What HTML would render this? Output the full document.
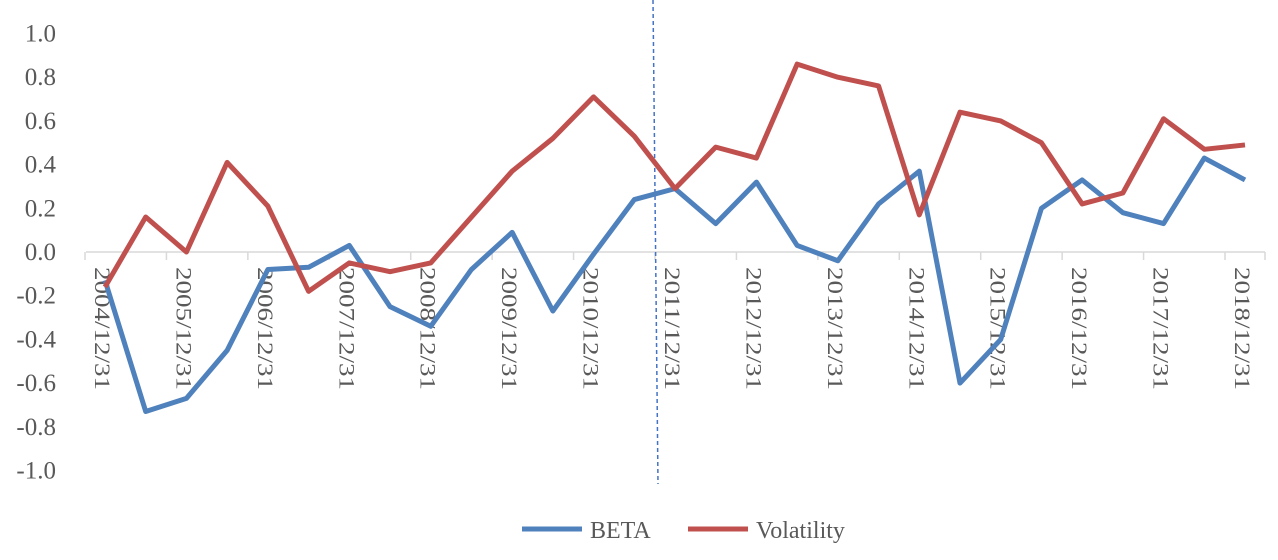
<!DOCTYPE html>
<html><head><meta charset="utf-8">
<style>
html,body{margin:0;padding:0;background:#fff;}
svg text{font-family:"Liberation Serif",serif;fill:#595959;}
</style></head>
<body>
<svg id="chart" width="1278" height="555" viewBox="0 0 1278 555" xmlns="http://www.w3.org/2000/svg">
<g id="yaxis"></g>
<g id="xaxis"></g>
<line x1="653" y1="0" x2="658" y2="484" stroke="#4472C4" stroke-width="1.5" stroke-dasharray="4,3"/>
<g id="series"></g>
<g>
<line x1="522" y1="529" x2="582" y2="529" stroke="#4F81BD" stroke-width="5"/>
<text x="590" y="538" font-size="24">BETA</text>
<line x1="688" y1="529" x2="748" y2="529" stroke="#C0504D" stroke-width="5"/>
<text x="756" y="538" font-size="24">Volatility</text>
</g>
</svg>
<script>
const years = ['2004','2005','2006','2007','2008','2009','2010','2011','2012','2013','2014','2015','2016','2017','2018'];
const beta = [-0.13,-0.73,-0.67,-0.45,-0.08,-0.07,0.03,-0.25,-0.34,-0.08,0.09,-0.27,-0.01,0.24,0.29,0.13,0.32,0.03,-0.04,0.22,0.37,-0.6,-0.4,0.2,0.33,0.18,0.13,0.43,0.33];
const volatility = [-0.16,0.16,0.0,0.41,0.21,-0.18,-0.05,-0.09,-0.05,0.16,0.37,0.52,0.71,0.53,0.29,0.48,0.43,0.86,0.8,0.76,0.17,0.64,0.6,0.5,0.22,0.27,0.61,0.47,0.49];
const yTicks = [1.0,0.8,0.6,0.4,0.2,0.0,-0.2,-0.4,-0.6,-0.8,-1.0];
const NS='http://www.w3.org/2000/svg';
const y = v => 252 - v*218.5;
const x = i => 105 + i*(1245-105)/(beta.length-1);
const ya=document.getElementById('yaxis'), xa=document.getElementById('xaxis'), sg=document.getElementById('series');
yTicks.forEach(v=>{
  const t=document.createElementNS(NS,'text');
  
  
  t.setAttribute('x',56);t.setAttribute('y',y(v)+8);t.setAttribute('text-anchor','end');t.setAttribute('font-size','25');
  t.textContent=v.toFixed(1);ya.appendChild(t);
});
const zl=document.createElementNS(NS,'line');


zl.setAttribute('x1',86);zl.setAttribute('x2',1265);zl.setAttribute('y1',y(0));zl.setAttribute('y2',y(0));zl.setAttribute('stroke','#D9D9D9');zl.setAttribute('stroke-width','1.5');
xa.appendChild(zl);
for(let k=0;k<=years.length;k++){
  const tk=document.createElementNS(NS,'line');
  
  
  const tx=Math.min(x(k*2)-20,1265);
  tk.setAttribute('x1',tx);tk.setAttribute('x2',tx);tk.setAttribute('y1',y(0));tk.setAttribute('y2',y(0)+8);
  tk.setAttribute('stroke','#D9D9D9');tk.setAttribute('stroke-width','1.5');
  xa.appendChild(tk);
}
years.forEach((yr,k)=>{
  const t=document.createElementNS(NS,'text');
  
  
  const px=x(k*2)-10;
  t.setAttribute('transform','translate('+px+',267) rotate(90)');t.setAttribute('font-size','22');
  t.setAttribute('textLength','123');t.setAttribute('lengthAdjust','spacingAndGlyphs');
  t.textContent=yr+'/12/31';xa.appendChild(t);
});
function line(vals,color,name){
  const p=document.createElementNS(NS,'polyline');
  
  
  p.setAttribute('points',vals.map((v,i)=>x(i)+','+y(v)).join(' '));
  p.setAttribute('fill','none');p.setAttribute('stroke',color);p.setAttribute('stroke-width','5');p.setAttribute('stroke-linejoin','round');
  sg.appendChild(p);
}
line(beta,'#4F81BD','beta-line');
line(volatility,'#C0504D','volatility-line');
</script>
</body></html>
